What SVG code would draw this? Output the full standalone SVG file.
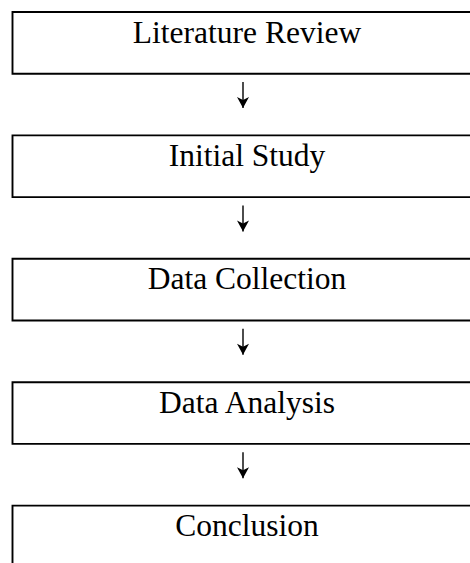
<svg xmlns="http://www.w3.org/2000/svg" width="470" height="563" viewBox="0 0 470 563">
<style>
.box{fill:none;stroke:#000;stroke-width:1.9}
.lbl{font-family:"Liberation Serif","Times New Roman",serif;font-size:31.5px;fill:#000;text-anchor:middle}
.conn{fill:none;stroke:#000;stroke-width:1.4;marker-end:url(#head)}
</style>
<defs>
<marker id="head" markerUnits="userSpaceOnUse" markerWidth="14" markerHeight="14" viewBox="-12 -7 14 14" refX="0" refY="0" orient="auto">
<path d="M-11,-6 L0,0 L-11,6 L-8,0 Z" fill="#000"/>
</marker>
</defs>
<rect width="470" height="563" fill="#fff"/>
<g id="n1"><path class="box" d="M472,12 H12.5 V73.7 H472"/><text class="lbl" x="247" y="42.5">Literature Review</text></g>
<g id="n2"><path class="box" d="M472,135.4 H12.5 V197.1 H472"/><text class="lbl" x="247" y="166">Initial Study</text></g>
<g id="n3"><path class="box" d="M472,258.8 H12.5 V320.5 H472"/><text class="lbl" x="247" y="289.4">Data Collection</text></g>
<g id="n4"><path class="box" d="M472,382.2 H12.5 V443.9 H472"/><text class="lbl" x="247" y="412.8">Data Analysis</text></g>
<g id="n5"><path class="box" d="M472,505.6 H12.5 V565"/><text class="lbl" x="247" y="536.4">Conclusion</text></g>
<g id="connectors">
<path class="conn" d="M243,82 V108"/>
<path class="conn" d="M243,205.4 V231.4"/>
<path class="conn" d="M243,328.8 V354.8"/>
<path class="conn" d="M243,452.2 V478.2"/>
</g>
</svg>
